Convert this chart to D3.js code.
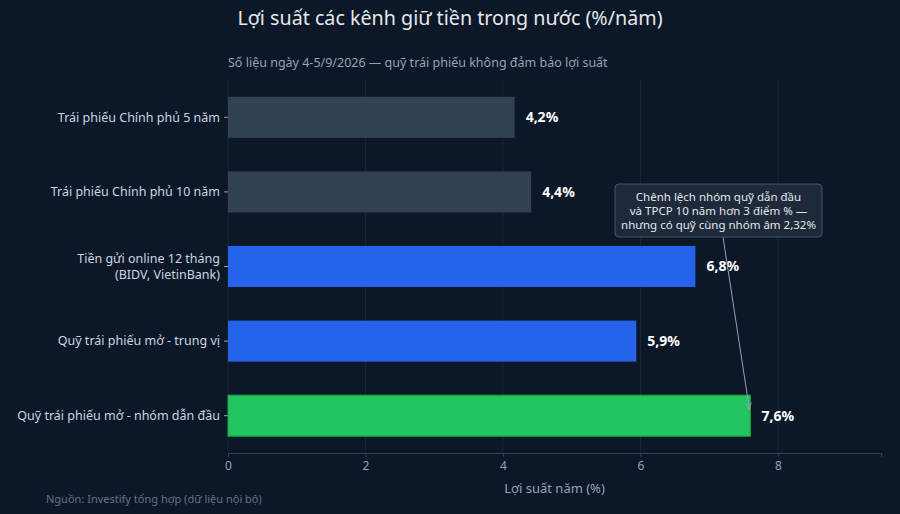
<!DOCTYPE html>
<html>
<head>
<meta charset="utf-8">
<script src="https://cdn.jsdelivr.net/npm/d3@7"></script>
<style>
  body { margin: 0; background: #0c1728; }
  svg { display: block; font-family: "Noto Sans", "Open Sans", sans-serif; }
</style>
</head>
<body>
<div id="chart"></div>
<script>
// data
var categories = [
    "Trái phiếu Chính phủ 5 năm",
    "Trái phiếu Chính phủ 10 năm",
    "Tiền gửi online 12 tháng\n(BIDV, VietinBank)",
    "Quỹ trái phiếu mở - trung vị",
    "Quỹ trái phiếu mở - nhóm dẫn đầu"
];
var values = [4.17, 4.41, 6.8, 5.94, 7.6];
var groups = ["gov", "gov", "deposit", "fund", "lead"];
var xTicks = [0, 2, 4, 6, 8];
var annotationLines = [
    "Chênh lệch nhóm quỹ dẫn đầu",
    "và TPCP 10 năm hơn 3 điểm % —",
    "nhưng có quỹ cùng nhóm âm 2,32%"
];

var dims = {
    width: 900,
    height: 514,
    margin: {top: 80, right: 19, bottom: 61, left: 228}
};
var colors = {
    gov: "#334155",
    deposit: "#2563eb",
    fund: "#2563eb",
    lead: "#22c55e"
};

var svg = d3.select('#chart')
    .append('svg')
    .attr('width', dims.width)
    .attr('height', dims.height);

svg.append('rect')
    .attr('width', dims.width)
    .attr('height', dims.height)
    .attr('fill', '#0c1728');

var x = d3.scaleLinear()
    .domain([0, 9.5])
    .range([dims.margin.left, dims.width - dims.margin.right]);

var y = d3.scaleBand()
    .domain(categories)
    .range([dims.margin.top, dims.height - dims.margin.bottom])
    .paddingInner(0.45)
    .paddingOuter(0.225);

var fmt = d3.format('.1f');

// grid
svg.append('g')
    .selectAll('line')
    .data(xTicks)
    .enter()
    .append('line')
    .attr('x1', function(d){ return x(d); })
    .attr('x2', function(d){ return x(d); })
    .attr('y1', dims.margin.top)
    .attr('y2', dims.height - dims.margin.bottom)
    .attr('stroke', '#1b2638')
    .attr('stroke-width', 1);

// bars
svg.append('g')
    .selectAll('rect')
    .data(values)
    .enter()
    .append('rect')
    .attr('x', x(0))
    .attr('y', function(d, i){ return y(categories[i]); })
    .attr('width', function(d){ return x(d) - x(0); })
    .attr('height', y.bandwidth())
    .attr('fill', function(d, i){ return colors[groups[i]]; })
    .attr('stroke', function(d, i){ return groups[i] === 'lead' ? '#16a34a' : 'none'; })
    .attr('stroke-width', 1);

// value labels
svg.append('g')
    .selectAll('text')
    .data(values)
    .enter()
    .append('text')
    .attr('x', function(d){ return x(d) + 11; })
    .attr('y', function(d, i){ return y(categories[i]) + y.bandwidth() / 2; })
    .attr('dy', '0.35em')
    .attr('fill', '#ffffff')
    .attr('font-size', 14)
    .attr('font-weight', 'bold')
    .text(function(d){ return fmt(d).replace('.', ',') + '%'; });

// x axis
var xAxis = svg.append('g')
    .attr('transform', 'translate(0,' + (dims.height - dims.margin.bottom) + ')')
    .call(d3.axisBottom(x).tickValues(xTicks).tickSize(4).tickPadding(4));
xAxis.select('.domain').attr('stroke', '#334155');
xAxis.selectAll('.tick line').attr('stroke', '#334155');
xAxis.selectAll('.tick text')
    .attr('fill', '#94a3b8')
    .attr('font-size', 12)
    .attr('font-family', '"Noto Sans", sans-serif');

// y axis
var yAxis = svg.append('g')
    .attr('transform', 'translate(' + dims.margin.left + ',0)')
    .call(d3.axisLeft(y).tickSize(4).tickPadding(4).tickFormat(''));
yAxis.select('.domain').remove();
yAxis.selectAll('.tick line').attr('stroke', '#94a3b8');

yAxis.selectAll('.tick')
    .append('text')
    .attr('fill', '#cbd5e1')
    .attr('font-size', 12.5)
    .attr('font-family', '"Noto Sans", sans-serif')
    .attr('text-anchor', 'end')
    .each(function(d){
        var lines = d.split('\n');
        var t = d3.select(this);
        lines.forEach(function(line, i){
            t.append('tspan')
                .attr('x', -8)
                .attr('y', (i - (lines.length - 1) / 2) * 16)
                .attr('dy', '0.35em')
                .text(line);
        });
    });

// titles
svg.append('text')
    .attr('x', dims.width / 2)
    .attr('y', 25)
    .attr('text-anchor', 'middle')
    .attr('fill', '#e5e7eb')
    .attr('font-size', 19.7)
    .text('Lợi suất các kênh giữ tiền trong nước (%/năm)');

svg.append('text')
    .attr('x', dims.margin.left)
    .attr('y', 67)
    .attr('fill', '#94a3b8')
    .attr('font-size', 12.5)
    .text('Số liệu ngày 4-5/9/2026 — quỹ trái phiếu không đảm bảo lợi suất');

svg.append('text')
    .attr('x', (x(0) + x(9.5)) / 2)
    .attr('y', 493)
    .attr('text-anchor', 'middle')
    .attr('fill', '#94a3b8')
    .attr('font-size', 13)
    .text('Lợi suất năm (%)');

svg.append('text')
    .attr('x', 46)
    .attr('y', 503)
    .attr('fill', '#64748b')
    .attr('font-size', 11)
    .text('Nguồn: Investify tổng hợp (dữ liệu nội bộ)');

// annotation
svg.append('defs')
    .append('marker')
    .attr('id', 'arrow')
    .attr('viewBox', '0 0 10 10')
    .attr('refX', 9)
    .attr('refY', 5)
    .attr('markerWidth', 7)
    .attr('markerHeight', 7)
    .attr('orient', 'auto')
    .append('path')
    .attr('d', 'M0,1 L9,5 L0,9')
    .attr('fill', 'none')
    .attr('stroke', '#94a3b8')
    .attr('stroke-width', 1.2);

var leadIdx = 4;
svg.append('line')
    .attr('x1', 723)
    .attr('y1', 237)
    .attr('x2', x(values[leadIdx]) - 1)
    .attr('y2', y(categories[leadIdx]) + 14)
    .attr('stroke', '#94a3b8')
    .attr('stroke-width', 1)
    .attr('marker-end', 'url(#arrow)');

var note = svg.append('g');
note.append('rect')
    .attr('x', 615)
    .attr('y', 184)
    .attr('width', 207)
    .attr('height', 53)
    .attr('rx', 4)
    .attr('fill', '#1e293b')
    .attr('stroke', '#475569')
    .attr('stroke-width', 1);
note.selectAll('text')
    .data(annotationLines)
    .enter()
    .append('text')
    .attr('x', 718.5)
    .attr('y', function(d, i){ return 201 + i * 14; })
    .attr('text-anchor', 'middle')
    .attr('fill', '#e5e7eb')
    .attr('font-size', 11.5)
    .text(function(d){ return d; });
</script>
</body>
</html>
